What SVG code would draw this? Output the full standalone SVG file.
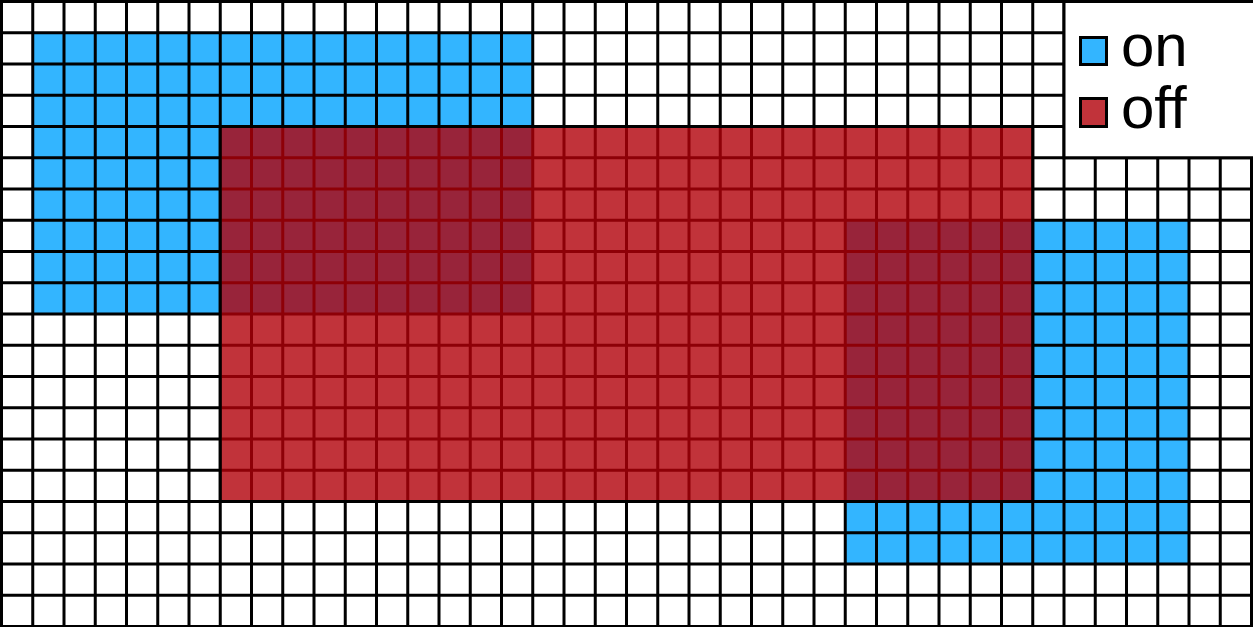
<svg xmlns="http://www.w3.org/2000/svg" width="1253" height="627" viewBox="0 0 1253 627">
<style>
.on{fill:#33b5ff}
.off{fill:rgb(178,0,9);fill-opacity:.8;stroke:#000;stroke-width:3}
.grid{fill:none;stroke:#000;stroke-width:3}
.key{stroke:#000;stroke-width:3}
.lbl{font-family:"Liberation Sans",Arial,sans-serif;font-size:60px;fill:#000}
</style>
<rect width="1253" height="627" fill="#fff"/>
<g id="on-regions">
<rect class="on" x="32.75" y="32.75" width="500" height="281.25"/>
<rect class="on" x="845.25" y="220.25" width="343.75" height="343.75"/>
</g>
<g id="grid">
<path class="grid" d="M1.5 0V627M32.75 0V627M64 0V627M95.25 0V627M126.5 0V627M157.75 0V627M189 0V627M220.25 0V627M251.5 0V627M282.75 0V627M314 0V627M345.25 0V627M376.5 0V627M407.75 0V627M439 0V627M470.25 0V627M501.5 0V627M532.75 0V627M564 0V627M595.25 0V627M626.5 0V627M657.75 0V627M689 0V627M720.25 0V627M751.5 0V627M782.75 0V627M814 0V627M845.25 0V627M876.5 0V627M907.75 0V627M939 0V627M970.25 0V627M1001.5 0V627M1032.75 0V627M1064 0V627M1095.25 0V627M1126.5 0V627M1157.75 0V627M1189 0V627M1220.25 0V627M1251.5 0V627M0 1.5H1253M0 32.75H1253M0 64H1253M0 95.25H1253M0 126.5H1253M0 157.75H1253M0 189H1253M0 220.25H1253M0 251.5H1253M0 282.75H1253M0 314H1253M0 345.25H1253M0 376.5H1253M0 407.75H1253M0 439H1253M0 470.25H1253M0 501.5H1253M0 532.75H1253M0 564H1253M0 595.25H1253M0 626.5H1253"/>
</g>
<g id="off-region">
<rect class="off" x="220.25" y="126.5" width="812.5" height="375"/>
</g>
<g id="legend">
<rect x="1064" y="1.5" width="200" height="156.25" fill="#fff" stroke="#000" stroke-width="3"/>
<rect class="on key" x="1080.5" y="37.5" width="26" height="27"/>
<text class="lbl" x="1121" y="66">on</text>
<rect class="off key" x="1080.5" y="98.5" width="26" height="28"/>
<text class="lbl" x="1121" y="128">off</text>
</g>
</svg>
